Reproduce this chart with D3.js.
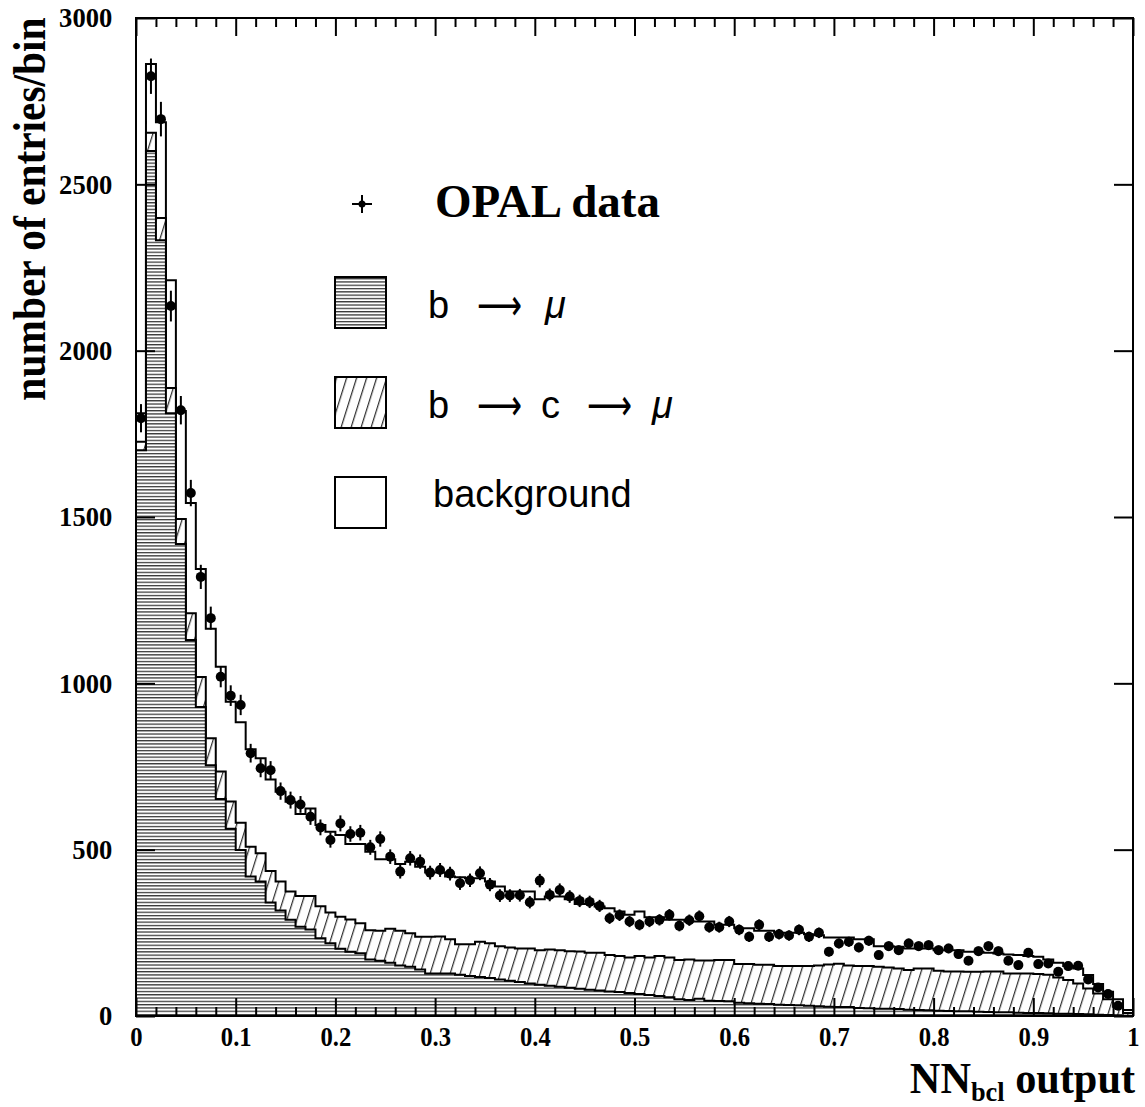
<!DOCTYPE html>
<html>
<head>
<meta charset="utf-8">
<script src="https://cdn.jsdelivr.net/npm/d3@7"></script>
<style>
  body { margin: 0; background: #fff; }
</style>
</head>
<body>
<svg id="chart" width="1145" height="1107"></svg>
<script>
// 100 bins of width 0.01 between 0 and 1
const nBins = 100;
const binWidth = 0.01;

// b -> mu (bottom, horizontal hatch)
const bToMu = [
  1701, 2600, 2332, 1812, 1419, 1130, 929, 754, 652, 563,
  499, 419, 404, 341, 317, 289, 268, 260, 234, 219,
  202, 193, 189, 170, 166, 160, 152, 148, 140, 128,
  128, 128, 124, 120, 117, 114, 110, 106, 102, 98,
  94, 91, 88, 85, 82, 79, 77, 74, 72, 69,
  66, 63, 60, 56, 50, 48, 52, 46, 45, 44,
  40, 38, 37, 36, 34, 33, 32, 31, 29, 28,
  27, 27, 24, 23, 22, 22, 21, 19, 18, 17,
  16, 15, 14, 14, 13, 12, 11, 11, 10, 9,
  9, 8, 7, 7, 6, 5, 4, 3, 2, 1
];

// b -> c -> mu (middle, diagonal hatch)
const bToCToMu = [
  25, 55, 67, 76, 75, 81, 90, 81, 83, 82,
  82, 90, 85, 95, 87, 85, 93, 101, 96, 92,
  96, 97, 90, 88, 90, 102, 104, 101, 98, 110,
  111, 103, 92, 96, 106, 105, 100, 100, 101, 105,
  104, 109, 110, 110, 112, 111, 113, 109, 108, 107,
  114, 113, 120, 120, 118, 122, 115, 121, 123, 124,
  116, 118, 117, 118, 116, 117, 118, 119, 123, 127,
  130, 125, 126, 127, 126, 124, 122, 119, 125, 126,
  120, 119, 120, 119, 120, 122, 123, 117, 118, 119,
  117, 116, 109, 101, 92, 78, 64, 47, 26, 8
];

// background (top, open)
const background = [
  86, 207, 288, 324, 325, 331, 325, 329, 315, 300,
  302, 293, 286, 275, 270, 270, 246, 263, 244, 243,
  246, 227, 238, 236, 215, 209, 201, 215, 211, 193,
  192, 188, 201, 198, 191, 185, 179, 168, 171, 171,
  153, 159, 161, 156, 143, 147, 139, 141, 134, 128,
  134, 121, 117, 113, 121, 114, 117, 117, 106, 106,
  108, 108, 102, 102, 100, 100, 100, 96, 91, 81,
  79, 84, 81, 81, 62, 64, 65, 65, 60, 60,
  62, 64, 64, 60, 60, 56, 54, 57, 55, 52,
  52, 46, 44, 42, 45, 40, 28, 23, 22, 9
];

// OPAL data, entries per bin (null = no point)
const opalData = [
  1797, 2825, 2696, 2134, 1821, 1572, 1320, 1196, 1020, 963,
  935, 790, 745, 739, 676, 649, 636, 599, 567, 529,
  579, 547, 551, 507, 532, 479, 434, 474, 464, 431,
  439, 428, 399, 408, 429, 395, 362, 362, 363, 342,
  407, 364, 379, 359, 346, 343, 331, 294, 303, 284,
  274, 284, 289, 304, 271, 288, 300, 267, 267, 284,
  259, 238, 274, 238, 246, 242, 259, 238, 250, 193,
  218, 223, 206, 226, 183, 210, 198, 218, 210, 213,
  198, 203, 186, 166, 195, 210, 195, 166, 153, 190,
  156, 158, 133, 150, 151, 110, 86, 66, 31, null
];

const xMajorTicks = [0, 0.1, 0.2, 0.3, 0.4, 0.5, 0.6, 0.7, 0.8, 0.9, 1];
const xTickLabels = ["0", "0.1", "0.2", "0.3", "0.4", "0.5", "0.6", "0.7", "0.8", "0.9", "1"];
const yTicks = [0, 500, 1000, 1500, 2000, 2500, 3000];
const yTickLabels = ["0", "500", "1000", "1500", "2000", "2500", "3000"];

const plot = { left: 136, right: 1133, top: 18, bottom: 1016 };
const serif = "Liberation Serif, Times New Roman, serif";

const svg = d3.select("#chart");

var x = d3.scaleLinear().domain([0, 1]).range([plot.left, plot.right]);
var y = d3.scaleLinear().domain([0, 3000]).range([plot.bottom, plot.top]);

// hatch patterns
const defs = svg.append("defs");
const hPat = defs.append("pattern")
  .attr("id", "hlines")
  .attr("patternUnits", "userSpaceOnUse")
  .attr("width", 10).attr("height", 3.3);
hPat.append("rect").attr("x", 0).attr("y", 0).attr("width", 10).attr("height", 3.3).attr("fill", "#fff");
hPat.append("rect").attr("x", 0).attr("y", 1).attr("width", 10).attr("height", 1).attr("fill", "#000");

const dPat = defs.append("pattern")
  .attr("id", "dlines")
  .attr("patternUnits", "userSpaceOnUse")
  .attr("width", 9.55).attr("height", 10)
  .attr("patternTransform", "rotate(17.4)");
dPat.append("rect").attr("width", 9.55).attr("height", 10).attr("fill", "#fff");
dPat.append("rect").attr("x", 4).attr("y", 0).attr("width", 1).attr("height", 10).attr("fill", "#000");

defs.append("clipPath").attr("id", "plotClip")
  .append("rect")
  .attr("x", plot.left).attr("y", plot.top)
  .attr("width", plot.right - plot.left).attr("height", plot.bottom - plot.top);

// stacked histogram
const rows = bToMu.map((v, i) => ({ lo: i * binWidth, bmu: v, bcmu: bToCToMu[i], bkg: background[i] }));
const layers = d3.stack().keys(["bmu", "bcmu", "bkg"])(rows);

function stepPoints(layer) {
  const pts = layer.map(d => ({ x: d.data.lo, top: d[1] }));
  pts.push({ x: 1, top: layer[layer.length - 1][1] });
  return pts;
}

const area = d3.area()
  .curve(d3.curveStepAfter)
  .x(d => x(d.x))
  .y0(y(0))
  .y1(d => y(d.top));

const outline = d3.line()
  .curve(d3.curveStepAfter)
  .x(d => x(d.x))
  .y(d => y(d.top));

const fills = { bkg: "#fff", bcmu: "url(#dlines)", bmu: "url(#hlines)" };

const histG = svg.append("g").attr("clip-path", "url(#plotClip)");

// draw total first, then the lower components over it
["bkg", "bcmu", "bmu"].forEach(key => {
  const layer = layers.find(l => l.key === key);
  const pts = stepPoints(layer);
  histG.append("path")
    .attr("d", area(pts))
    .attr("fill", fills[key])
    .attr("stroke", "none");
  const linePts = [{ x: 0, top: 0 }].concat(pts).concat([{ x: 1, top: 0 }]);
  histG.append("path")
    .attr("d", outline(linePts))
    .attr("fill", "none")
    .attr("stroke", "#000")
    .attr("stroke-width", 2);
});

// data points with sqrt(N) errors
const pts = opalData.map((v, i) => ({ c: (i + 0.5) * binWidth, v: v })).filter(d => d.v != null);
const dataG = svg.append("g");
dataG.selectAll("line.err")
  .data(pts)
  .enter()
  .append("line")
  .attr("class", "err")
  .attr("x1", d => x(d.c)).attr("x2", d => x(d.c))
  .attr("y1", d => y(d.v - Math.sqrt(d.v)))
  .attr("y2", d => y(d.v + Math.sqrt(d.v)))
  .attr("stroke", "#000")
  .attr("stroke-width", 2);
dataG.selectAll("circle")
  .data(pts)
  .enter()
  .append("circle")
  .attr("cx", d => x(d.c))
  .attr("cy", d => y(d.v))
  .attr("r", 5)
  .attr("fill", "#000");

// axes, ticks pointing inwards
const xMinor = d3.range(0, 1.0001, 0.02).filter(v => Math.abs(v * 10 - Math.round(v * 10)) > 1e-6);

function styleAxis(g) {
  g.select(".domain").remove();
  g.selectAll(".tick line").attr("stroke", "#000").attr("stroke-width", 2);
}

svg.append("g")
  .attr("transform", `translate(0,${plot.bottom})`)
  .call(d3.axisBottom(x).tickValues(xMajorTicks).tickSize(-18).tickPadding(10)
    .tickFormat((d, i) => xTickLabels[i]))
  .call(styleAxis)
  .call(g => g.selectAll("text")
    .attr("font-family", serif)
    .attr("font-weight", "bold")
    .attr("font-size", 28)
    .attr("transform", "scale(0.88,1)")
    .attr("fill", "#000"));

svg.append("g")
  .attr("transform", `translate(0,${plot.bottom})`)
  .call(d3.axisBottom(x).tickValues(xMinor).tickSize(-9).tickFormat(""))
  .call(styleAxis);

svg.append("g")
  .attr("transform", `translate(0,${plot.top})`)
  .call(d3.axisTop(x).tickValues(xMajorTicks).tickSize(-18).tickFormat(""))
  .call(styleAxis);

svg.append("g")
  .attr("transform", `translate(0,${plot.top})`)
  .call(d3.axisTop(x).tickValues(xMinor).tickSize(-9).tickFormat(""))
  .call(styleAxis);

svg.append("g")
  .attr("transform", `translate(${plot.left},0)`)
  .call(d3.axisLeft(y).tickValues(yTicks).tickSize(-19).tickPadding(0)
    .tickFormat((d, i) => yTickLabels[i]))
  .call(styleAxis)
  .call(g => g.selectAll("text")
    .attr("font-family", serif)
    .attr("font-weight", "bold")
    .attr("font-size", 28)
    .attr("x", -25)
    .attr("transform", "scale(0.95,1)")
    .attr("fill", "#000"));

svg.append("g")
  .attr("transform", `translate(${plot.right},0)`)
  .call(d3.axisRight(y).tickValues(yTicks).tickSize(-19).tickFormat(""))
  .call(styleAxis);

// frame
svg.append("rect")
  .attr("x", plot.left).attr("y", plot.top)
  .attr("width", plot.right - plot.left).attr("height", plot.bottom - plot.top)
  .attr("fill", "none")
  .attr("stroke", "#000")
  .attr("stroke-width", 2);

// axis titles
svg.append("text")
  .attr("transform", "translate(45,209) rotate(-90) scale(0.9,1)")
  .attr("text-anchor", "middle")
  .attr("font-family", serif)
  .attr("font-weight", "bold")
  .attr("font-size", 46)
  .text("number of entries/bin");

const xTitle = svg.append("text")
  .attr("transform", "translate(1135,1093) scale(0.94,1)")
  .attr("text-anchor", "end")
  .attr("font-family", serif)
  .attr("font-weight", "bold")
  .attr("font-size", 45);
xTitle.append("tspan").text("NN");
xTitle.append("tspan").attr("font-size", 28).attr("dy", 8).text("bcl");
xTitle.append("tspan").attr("dy", -8).text(" output");

// legend
const legend = svg.append("g");
legend.append("line").attr("x1", 352).attr("x2", 372).attr("y1", 204).attr("y2", 204)
  .attr("stroke", "#000").attr("stroke-width", 2);
legend.append("line").attr("x1", 362).attr("x2", 362).attr("y1", 195).attr("y2", 213)
  .attr("stroke", "#000").attr("stroke-width", 2);
legend.append("circle").attr("cx", 362).attr("cy", 204).attr("r", 3.5).attr("fill", "#000");
legend.append("text")
  .attr("x", 435).attr("y", 217)
  .attr("font-family", serif)
  .attr("font-weight", "bold")
  .attr("font-size", 47)
  .text("OPAL data");

const legendBoxes = [
  { fill: "url(#hlines)", y: 277 },
  { fill: "url(#dlines)", y: 377 },
  { fill: "#fff", y: 477 }
];
legend.selectAll("rect.box")
  .data(legendBoxes)
  .enter()
  .append("rect")
  .attr("class", "box")
  .attr("x", 335).attr("y", d => d.y)
  .attr("width", 51).attr("height", 51)
  .attr("fill", d => d.fill)
  .attr("stroke", "#000")
  .attr("stroke-width", 2);

const sansFont = "Liberation Sans, Arial, sans-serif";
function legendText(yBase, parts) {
  parts.forEach(p => {
    const t = legend.append("text")
      .attr("x", p.x)
      .attr("y", p.arrow ? yBase + 2 : yBase)
      .attr("font-family", p.arrow ? "DejaVu Sans, sans-serif" : sansFont)
      .attr("font-size", p.arrow ? 44 : 38)
      .text(p.s);
    if (p.italic) t.attr("font-style", "italic");
    if (p.arrow) t.attr("textLength", 45).attr("lengthAdjust", "spacingAndGlyphs");
  });
}
legendText(318, [
  { x: 428, s: "b" },
  { x: 477, s: "\u27f6", arrow: true },
  { x: 545, s: "\u03bc", italic: true }
]);
legendText(418, [
  { x: 428, s: "b" },
  { x: 477, s: "\u27f6", arrow: true },
  { x: 541, s: "c" },
  { x: 587, s: "\u27f6", arrow: true },
  { x: 652, s: "\u03bc", italic: true }
]);
legendText(507, [{ x: 433, s: "background" }]);
</script>
</body>
</html>
